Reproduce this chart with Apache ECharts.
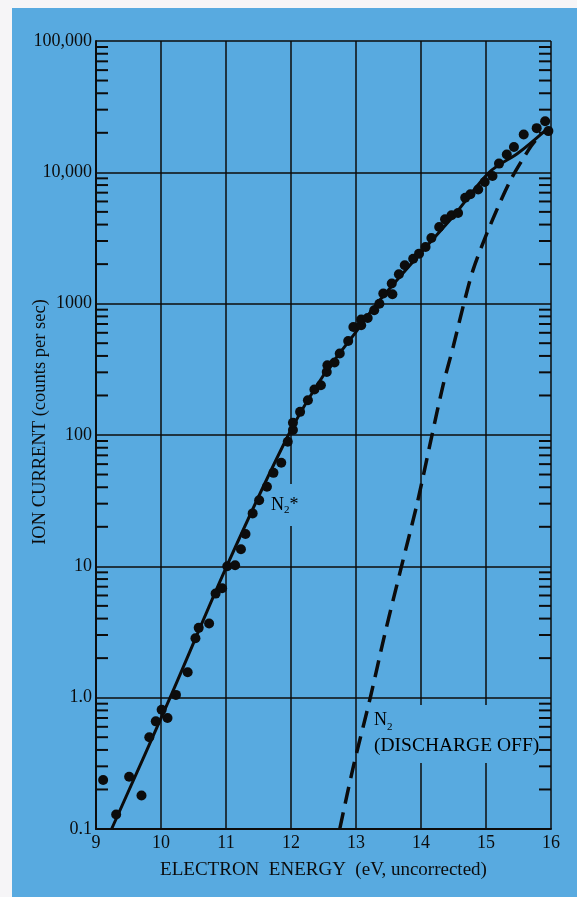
<!DOCTYPE html>
<html>
<head>
<meta charset="utf-8">
<script src="https://cdn.jsdelivr.net/npm/echarts@6/dist/echarts.min.js"></script>
<style>
    html, body {margin: 0; padding: 0; background: #f6f5f7;}
    #bg {position: absolute; left: 12px; top: 8px; width: 565px; height: 889px; background: #58aae0;}
    #chart {position: absolute; left: 0; top: 0; width: 577px; height: 897px;}
</style>
</head>
<body>
<div id="bg"></div>
<div id="chart"></div>
<script>
// measured points, N2* ion current vs electron energy
var energy = [9.11, 9.31, 9.51, 9.70, 9.82, 9.92, 10.01, 10.10, 10.23, 10.41, 10.53, 10.58, 10.74, 10.84, 10.94,
    11.02, 11.14, 11.23, 11.30, 11.41, 11.51, 11.63, 11.73, 11.85, 11.95, 12.03, 12.03, 12.14, 12.26, 12.36, 12.46,
    12.55, 12.56, 12.67, 12.75, 12.88, 12.96, 13.08, 13.08, 13.18, 13.28, 13.36, 13.42, 13.56, 13.55, 13.66, 13.75,
    13.88, 13.97, 14.07, 14.16, 14.28, 14.37, 14.47, 14.57, 14.68, 14.76, 14.88, 14.98, 15.10, 15.20, 15.32, 15.43,
    15.58, 15.78, 15.91, 16.01, 15.96];
var counts = [0.236, 0.129, 0.25, 0.18, 0.50, 0.66, 0.81, 0.70, 1.05, 1.56, 2.83, 3.4, 3.67, 6.2, 6.8,
    10.0, 10.2, 13.5, 17.6, 25.3, 31.9, 40.3, 51.5, 61.4, 88.7, 109, 124, 150, 184, 222, 239,
    302, 340, 356, 417, 520, 665, 685, 757, 778, 891, 1000, 1194, 1178, 1422, 1675, 1960,
    2200, 2404, 2700, 3163, 3835, 4385, 4710, 4900, 6400, 6800, 7390, 8440, 9370, 11650, 13650, 15600,
    19400, 21700, 24500, 25600, 20600];

// solid fitted curve (N2*)
var fitEnergy = [9.24, 10.14, 11.01, 11.96, 12.5, 13.0, 13.32, 14.0, 14.5, 15.05, 15.5, 15.92];
var fitCounts = [0.1, 1, 10, 100, 285, 610, 1000, 2450, 4650, 10000, 14100, 21000];

// dashed curve (N2, discharge off)
var offEnergy = [12.75, 12.96, 13.22, 13.44, 13.70, 13.94, 14.16, 14.34, 14.50, 14.65, 14.80, 15.01, 15.22, 15.39, 15.57, 15.70, 15.82];
var offCounts = [0.1, 0.3, 1, 3, 10, 30, 95, 240, 480, 960, 1800, 3400, 5950, 8950, 12700, 16000, 19000];

var xTicks = [9, 10, 11, 12, 13, 14, 15, 16];
var yTickLabels = ['0.1', '1.0', '10', '100', '1000', '10,000', '100,000'];
var decades = [0.1, 1, 10, 100, 1000, 10000];
var minorMantissas = [2, 3, 4, 5, 6, 7, 8, 9];

var FONT = 'Liberation Serif';
var BLUE = '#58aae0';
var INK = '#0c0c0c';

function pairs(xs, ys) {
    return xs.map(function (x, i) { return [x, ys[i]]; });
}

var minorTicks = [];
decades.forEach(function (d) {
    minorMantissas.forEach(function (m) { minorTicks.push([xTicks[0], m * d]); });
});

var chart = echarts.init(document.getElementById('chart'));
chart.setOption({
    backgroundColor: 'transparent',
    animation: false,
    grid: {left: 96, right: 26, top: 41, bottom: 68},
    xAxis: {
        type: 'value',
        min: xTicks[0],
        max: xTicks[xTicks.length - 1],
        interval: 1,
        name: 'ELECTRON  ENERGY  (eV, uncorrected)',
        nameLocation: 'middle',
        nameMoveOverlap: false,
        nameGap: 32,
        nameTextStyle: {fontFamily: FONT, fontSize: 19, color: INK},
        axisLine: {lineStyle: {color: INK, width: 2}},
        axisTick: {show: false},
        axisLabel: {fontFamily: FONT, fontSize: 18, color: INK, margin: 5},
        splitLine: {show: true, lineStyle: {color: INK, width: 1.5}}
    },
    yAxis: {
        type: 'log',
        logBase: 10,
        min: 0.1,
        max: 100000,
        splitNumber: 6,
        name: 'ION CURRENT (counts per sec)',
        nameLocation: 'middle',
        nameMoveOverlap: false,
        nameRotate: 90,
        nameGap: 46,
        nameTextStyle: {fontFamily: FONT, fontSize: 18.5, color: INK, padding: [0, 0, 0, 26]},
        axisLine: {show: true, lineStyle: {color: INK, width: 2}},
        axisTick: {show: false},
        axisLabel: {
            fontFamily: FONT, fontSize: 18, color: INK, margin: 4,
            formatter: function (v) {
                return yTickLabels[Math.round(Math.log10(v)) + 1];
            }
        },
        splitLine: {show: true, lineStyle: {color: INK, width: 1.5}}
    },
    graphic: [
        {
            type: 'text', left: 268, top: 484, z: 1,
            style: {
                text: '{n|N}{s|2}{n|*}',
                backgroundColor: BLUE,
                padding: [10, 3, 10, 3],
                rich: {
                    n: {fontFamily: FONT, fontSize: 18, color: INK, lineHeight: 22, verticalAlign: 'middle'},
                    s: {fontFamily: FONT, fontSize: 11, color: INK, lineHeight: 22, verticalAlign: 'bottom'}
                }
            }
        },
        {
            type: 'text', left: 371, top: 705, z: 1,
            style: {
                text: '{n|N}{s|2}\n{t|(DISCHARGE OFF)}',
                backgroundColor: BLUE,
                padding: [2, 3, 4, 3],
                rich: {
                    n: {fontFamily: FONT, fontSize: 18, color: INK, lineHeight: 26, verticalAlign: 'middle'},
                    s: {fontFamily: FONT, fontSize: 11, color: INK, lineHeight: 26, verticalAlign: 'bottom'},
                    t: {fontFamily: FONT, fontSize: 19.5, color: INK, lineHeight: 26}
                }
            }
        }
    ],
    series: [
        {
            type: 'custom',
            silent: true,
            clip: false,
            z: 3,
            data: minorTicks,
            renderItem: function (params, api) {
                var l = api.coord([xTicks[0], api.value(1)]);
                var r = api.coord([xTicks[xTicks.length - 1], api.value(1)]);
                var st = {stroke: INK, lineWidth: 2};
                return {
                    type: 'group',
                    children: [
                        {type: 'line', shape: {x1: l[0], y1: l[1], x2: l[0] + 12, y2: l[1]}, style: st},
                        {type: 'line', shape: {x1: r[0] - 12, y1: r[1], x2: r[0], y2: r[1]}, style: st}
                    ]
                };
            }
        },
        {
            type: 'line',
            data: pairs(fitEnergy, fitCounts),
            smooth: 0.3,
            showSymbol: false,
            z: 4,
            lineStyle: {color: INK, width: 3}
        },
        {
            type: 'line',
            data: pairs(offEnergy, offCounts),
            smooth: 0.3,
            showSymbol: false,
            z: 4,
            lineStyle: {color: INK, width: 3.5, type: [17, 9]}
        },
        {
            type: 'scatter',
            data: pairs(energy, counts),
            symbolSize: 10,
            z: 5,
            itemStyle: {color: INK, opacity: 1}
        }
    ]
});
</script>
</body>
</html>
